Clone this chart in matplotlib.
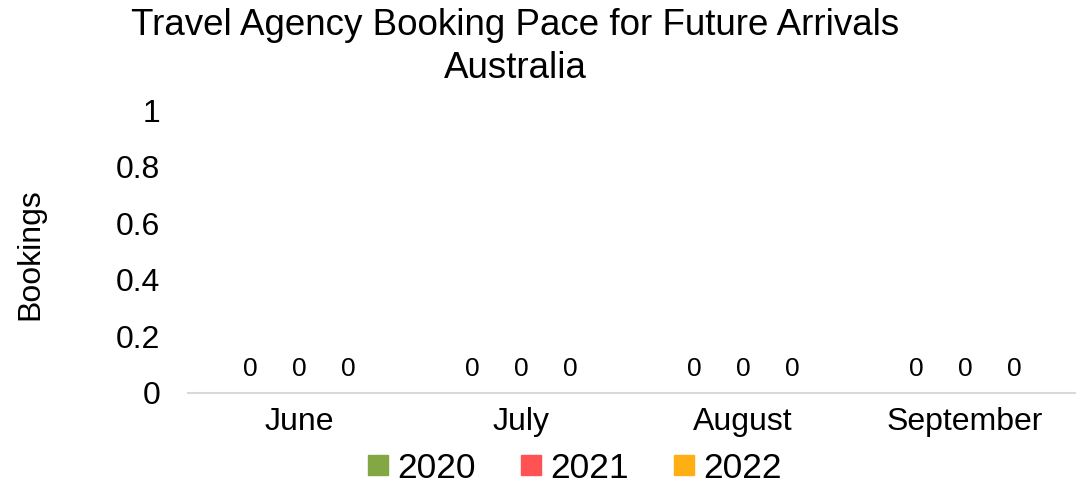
import matplotlib.pyplot as plt
import numpy as np

plt.rcParams['font.family'] = ['Liberation Sans', 'DejaVu Sans']

# Reservas por mes de llegada
meses = ['June', 'July', 'August', 'September']
anios = ['2020', '2021', '2022']
reservas_2020 = [0, 0, 0, 0]
reservas_2021 = [0, 0, 0, 0]
reservas_2022 = [0, 0, 0, 0]
colores = ['#83A742', '#FF5353', '#FFAE14']


def main():
    fig = plt.figure(figsize=(10.76, 4.91), dpi=100)
    ax = fig.add_axes([188 / 1076, 1 - 393 / 491, 888 / 1076, 283 / 491])

    x = np.arange(len(meses))
    ancho = 0.22
    series = [reservas_2020, reservas_2021, reservas_2022]
    for i, (valores, anio, color) in enumerate(zip(series, anios, colores)):
        pos = x + (i - 1) * ancho
        ax.bar(pos, valores, ancho * 0.8, color=color, label=anio)
        # etiqueta con el valor encima de cada barra
        for xb, v in zip(pos, valores):
            ax.annotate(f'{v}', (xb, v), xytext=(0, 17), textcoords='offset points',
                        ha='center', va='center', fontsize=19)

    ax.set_xlim(-0.5, len(meses) - 0.5)
    ax.set_ylim(0, 1)
    ax.set_yticks(np.arange(0, 1.01, 0.2))
    ax.set_yticklabels(['0', '0.2', '0.4', '0.6', '0.8', '1'])
    ax.set_xticks(x)
    ax.set_xticklabels(meses)
    ax.tick_params(axis='both', length=0, labelsize=23)
    ax.tick_params(axis='y', pad=20)
    ax.tick_params(axis='x', pad=10)

    for lado in ['top', 'right', 'left']:
        ax.spines[lado].set_visible(False)
    ax.spines['bottom'].set_color('#D9D9D9')
    ax.spines['bottom'].set_linewidth(1.5)

    fig.text(30 / 1076, 1 - 254 / 491, 'Bookings', rotation=90, ha='center', va='center', fontsize=23)
    fig.text(515 / 1076, 1 - 47 / 491, 'Travel Agency Booking Pace for Future Arrivals\nAustralia',
             ha='center', va='center', fontsize=26.5, linespacing=1.3)

    handles = [plt.Line2D([], [], marker='s', linestyle='', markersize=14, color=c) for c in colores]
    fig.legend(handles, anios, loc='center', bbox_to_anchor=(570 / 1076, 1 - 468 / 491), ncol=3,
               frameon=False, fontsize=25.5, handletextpad=0.0, columnspacing=1.0, handlelength=1.1)

    fig.savefig('out.png', dpi=100)


if __name__ == "__main__":
    main()
